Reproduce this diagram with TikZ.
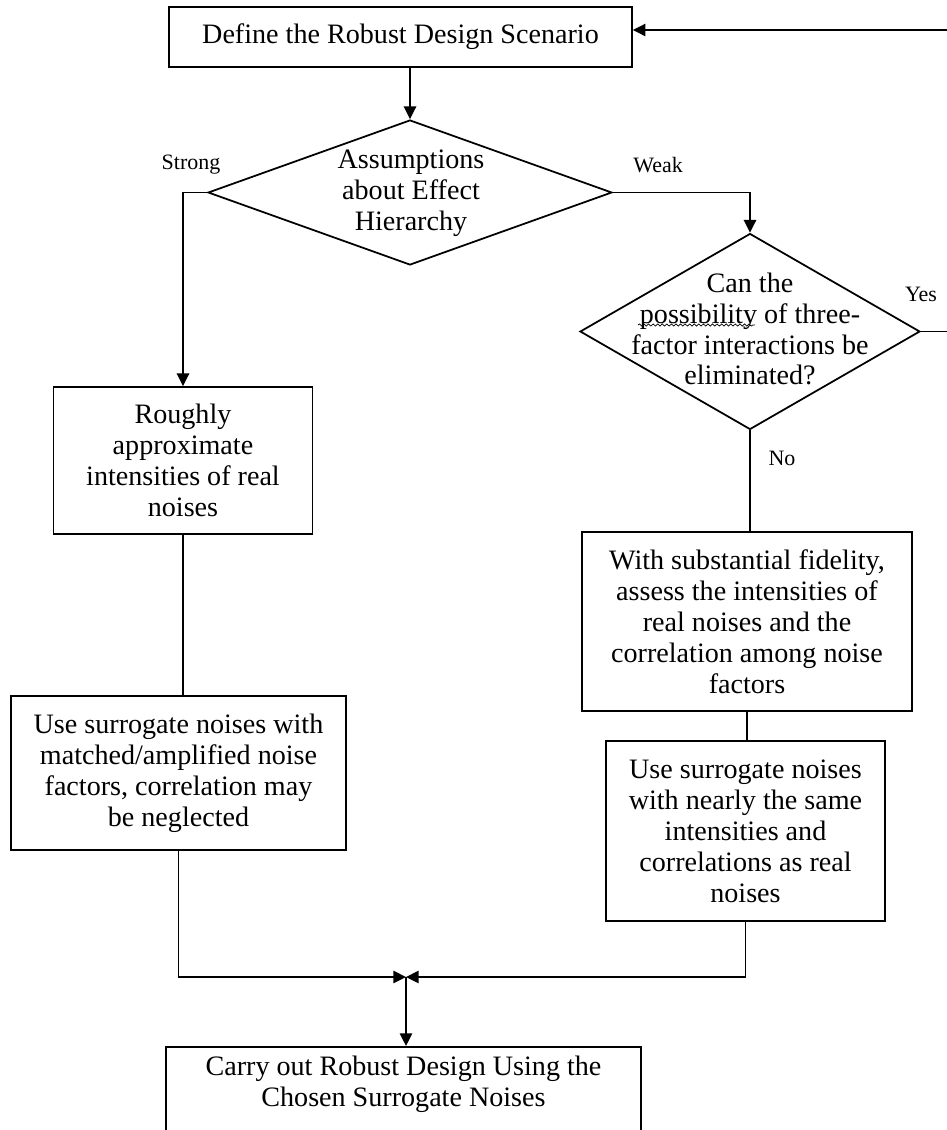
\documentclass[tikz,border=0pt]{standalone}
\usepackage{fontspec}
\setmainfont{Liberation Serif}
\usetikzlibrary{arrows.meta,shapes.geometric,decorations.pathmorphing}

\begin{document}
\begin{tikzpicture}[x=0.02cm,y=-0.02cm,
  every node/.style={font=\fontsize{16pt}{17.6pt}\selectfont},
  box/.style={draw, line width=1pt, rectangle, inner sep=0pt, align=center},
  choice/.style={draw, line width=1pt, diamond, inner sep=0pt},
  words/.style={align=center, inner sep=0pt},
  tag/.style={inner sep=0pt, font=\fontsize{12.5pt}{14pt}\selectfont},
  link/.style={line width=1pt},
  flow/.style={link, -{Triangle[length=7.2pt,width=7pt]}},
  squiggle/.style={decorate, decoration={snake, amplitude=0.6pt, segment length=2.6pt}, line width=0.4pt}]

\useasboundingbox (0,0) rectangle (947,1130);
\clip (0,0) rectangle (947,1130);

% process boxes
\node[box, minimum width=9.26cm, minimum height=1.2cm] (top) at (400.5,37)
  {Define the Robust Design Scenario};
\node[box, minimum width=5.18cm, minimum height=2.94cm] (rough) at (183,460.5)
  {Roughly\\approximate\\intensities of real\\noises};
\node[box, minimum width=6.7cm, minimum height=3.08cm] (matched) at (178.5,773)
  {Use surrogate noises with\\matched/amplified noise\\factors, correlation may\\be neglected};
\node[box, minimum width=6.6cm, minimum height=3.58cm] (subst) at (747,621.5)
  {With substantial fidelity,\\assess the intensities of\\real noises and the\\correlation among noise\\factors};
\node[box, minimum width=5.58cm, minimum height=3.6cm] (nearly) at (745.5,831)
  {Use surrogate noises\\with nearly the same\\intensities and\\correlations as real\\noises};
% the last box runs on past the lower edge of the page
\node[box, anchor=north, minimum width=9.5cm, inner ysep=0.18cm, text depth=1.5cm] (final) at (403.5,1046)
  {Carry out Robust Design Using the\\Chosen Surrogate Noises};

% decisions
\node[choice, minimum width=8.08cm, minimum height=2.9cm] (d1) at (410,192.5) {};
\node[words] (d1text) at (411,193.5) {Assumptions\\about Effect\\Hierarchy};
\node[choice, minimum width=6.8cm, minimum height=3.92cm] (d2) at (750,331.5) {};
\node[words] (d2text) at (750,329)
  {Can the\\possibility of three-\\factor interactions be\\eliminated?};

% spelling mark under "possibility"
\coordinate (sqa) at (638,325);
\coordinate (sqb) at (755,325);
\draw[squiggle] (sqa) -- (sqb);

% branch labels
\node[tag] (strong) at (191,165) {Strong};
\node[tag] (weak) at (658,165) {Weak};
\node[tag] (yes) at (921,294) {Yes};
\node[tag] (no) at (782,458) {No};

% connectors
\draw[flow] (top.south -| d1.north) -- (d1.north);
\draw[flow] (d1.west) -| (rough.north);
\draw[link] (rough.south) -- (rough.south |- matched.north);
\draw[flow] (d1.east) -| (d2.north);
\draw[link] (d2.south) -- (d2.south |- subst.north);
\draw[link] (subst.south) -- (subst.south |- nearly.north);

\coordinate (join) at (406,977);
\draw[flow] (matched.south) |- (join);
\draw[flow] (nearly.south) |- (join);
\draw[flow] (join) -- (join |- final.north);

% "Yes" loop back to the start
\coordinate (yesout) at (947,331.5);
\coordinate (yesin) at (947,30);
\draw[link] (d2.east) -- (yesout);
\draw[flow] (yesin) -- (yesin -| top.east);
\end{tikzpicture}
\end{document}
